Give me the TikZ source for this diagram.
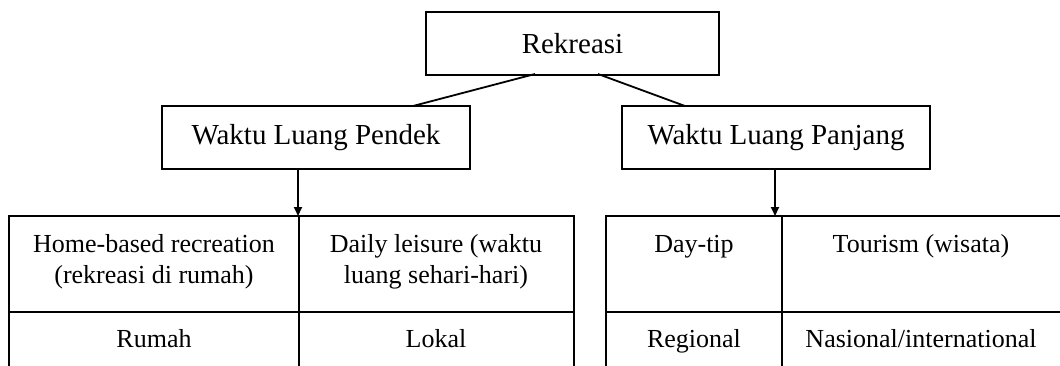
\documentclass[tikz,border=0pt]{standalone}
\usepackage{fontspec}
\setmainfont{Liberation Serif}
\usetikzlibrary{arrows.meta}
\begin{document}
\begin{tikzpicture}[x=1pt,y=-1pt,
  box/.style={draw,line width=2pt,minimum height=63pt,inner sep=0pt,font=\fontsize{29}{34}\selectfont},
  cell/.style={align=center,inner sep=0pt,font=\fontsize{26}{31}\selectfont},
  rule/.style={line width=2pt},
  link/.style={line width=1.8pt},
  arr/.style={line width=2pt,-{Triangle[length=9pt,width=8pt]}}]
\useasboundingbox (0,0) rectangle (1060,365);
\node[box,minimum width=293pt] (rek) at (572.5,43.5) {Rekreasi};
\node[box,minimum width=308pt] (pendek) at (316,137.5) {Waktu Luang Pendek};
\node[box,minimum width=308pt] (panjang) at (776,137.5) {Waktu Luang Panjang};
\coordinate (rekL) at (535,74);
\coordinate (rekR) at (598,74);
\coordinate (pendT) at (413,106);
\coordinate (panjT) at (685,106);
\draw[link] (rekL) -- (pendT);
\draw[link] (rekR) -- (panjT);
\coordinate (tabL) at (298,216);
\coordinate (tabR) at (775,216);
\draw[arr] (pendek.south -| tabL) -- (tabL);
\draw[arr] (panjang.south -| tabR) -- (tabR);
% left table
\draw[rule] (8,216) -- (575,216);
\draw[rule] (8,312) -- (575,312);
\draw[rule] (9,215) -- (9,366);
\draw[rule] (299,215) -- (299,366);
\draw[rule] (574,215) -- (574,366);
% right table
\draw[rule] (605,216) -- (1061,216);
\draw[rule] (605,312) -- (1061,312);
\draw[rule] (606,215) -- (606,366);
\draw[rule] (782,215) -- (782,366);
\node[cell,anchor=base] (c11) at (154,283) {Home-based recreation\\(rekreasi di rumah)};
\node[cell,anchor=base] (c12) at (436,283) {Daily leisure (waktu\\luang sehari-hari)};
\node[cell,anchor=base] (c13) at (694,252) {Day-tip};
\node[cell,anchor=base] (c14) at (921,252) {Tourism (wisata)};
\node[cell,anchor=base] (c21) at (154,347) {Rumah};
\node[cell,anchor=base] (c22) at (436,347) {Lokal};
\node[cell,anchor=base] (c23) at (694,347) {Regional};
\node[cell,anchor=base] (c24) at (921,347) {Nasional/international};
\end{tikzpicture}
\end{document}
